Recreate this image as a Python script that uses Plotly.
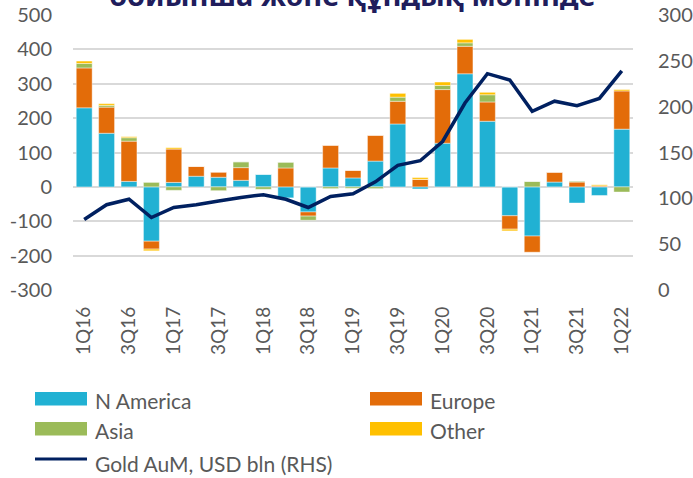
import plotly.graph_objects as go

quarters = ['1Q16', '2Q16', '3Q16', '4Q16', '1Q17', '2Q17', '3Q17', '4Q17',
            '1Q18', '2Q18', '3Q18', '4Q18', '1Q19', '2Q19', '3Q19', '4Q19',
            '1Q20', '2Q20', '3Q20', '4Q20', '1Q21', '2Q21', '3Q21', '4Q21', '1Q22']
tick_labels = quarters[::2]
left_ticks = [-300, -200, -100, 0, 100, 200, 300, 400, 500]
left_tick_text = ['-300', '-200', '-100', '0', '100', '200', '300', '400', '500']
right_ticks = [0, 50, 100, 150, 200, 250, 300]

n_america = [230, 156, 16, -158, 13, 31, 28, 19, 37, -32, -73, 55, 26, 75, 183, -6,
             127, 329, 191, -84, -143, 14, -47, -25, 168]
europe = [116, 76, 117, -23, 97, 29, 15, 37, 0, 55, -12, 66, 22, 75, 66, 22,
          156, 80, 56, -39, -47, 29, 14, 3, 111]
asia = [13, 5, 10, 13, -10, 0, -11, 17, -7, 17, -12, -5, -4, -5, 12, 0,
        12, 10, 21, 0, 16, 0, 3, 0, -15]
other = [7, 5, 3, -5, 4, 0, 0, 0, 0, 0, 0, 0, 0, 0, 11, 5,
         10, 10, 7, -5, 0, 0, 0, 3, 4]
gold_aum = [77, 93, 99, 79, 90, 93, 97, 101, 104, 99, 90, 102, 105, 118, 136, 141,
            162, 204, 236, 229, 195, 206, 201, 209, 239]

series = [("N America", n_america, "#21B1D3"),
          ("Europe", europe, "#E36C09"),
          ("Asia", asia, "#9BBB59"),
          ("Other", other, "#FFC000")]
line_name = "Gold AuM, USD bln (RHS)"
line_color = "#002060"
title_text = "бойынша және құндық мәнінде"

FONT = "Lato"
GRAY = "#595959"

fig = go.Figure()
for name, vals, col in series:
    fig.add_trace(go.Bar(x=quarters, y=vals, name=name, marker_color=col,
                         marker_line=dict(color="rgba(255,255,255,0.7)", width=0.6),
                         showlegend=False))
fig.add_trace(go.Scatter(x=quarters, y=gold_aum, name=line_name, yaxis="y2",
                         mode="lines", line=dict(color=line_color, width=3.5),
                         showlegend=False))

# geometry in screen pixels (page body margin removed below)
W, H = 693, 478
L, R, T, B = 73, 633, 15, 290
pw, ph = R - L, B - T

def px(x):
    return (x - L) / pw

def py(y):
    return (B - y) / ph

shapes = []
annotations = []
# custom legend
legend_items = [
    ("N America", "#21B1D3", 35, 392, 93, "rect"),
    ("Europe", "#E36C09", 370, 392, 428, "rect"),
    ("Asia", "#9BBB59", 35, 422, 93, "rect"),
    ("Other", "#FFC000", 370, 422, 428, "rect"),
    (line_name, line_color, 35, 459, 93, "line"),
]
for text, col, sx, sy, tx, kind in legend_items:
    if kind == "rect":
        shapes.append(dict(type="rect", xref="paper", yref="paper",
                           x0=px(sx), x1=px(sx + 52), y0=py(sy), y1=py(sy + 13.5),
                           fillcolor=col, line=dict(width=0)))
        cy = sy + 8
    else:
        shapes.append(dict(type="line", xref="paper", yref="paper",
                           x0=px(sx), x1=px(sx + 52), y0=py(sy), y1=py(sy),
                           line=dict(color=col, width=3)))
        cy = sy + 4.5
    annotations.append(dict(text=text, xref="paper", yref="paper", x=px(tx), y=py(cy),
                            xanchor="left", yanchor="middle", showarrow=False,
                            font=dict(family=FONT, size=21, color=GRAY)))

annotations.append(dict(text="<b>" + title_text + "</b>", xref="paper", yref="paper",
                        x=px(352), y=py(-5.5), xanchor="center", yanchor="middle",
                        showarrow=False,
                        font=dict(family="Noto Sans", size=29, color="#201D5C")))

fig.update_layout(
    width=W, height=H,
    margin=dict(l=L, r=W - R, t=T, b=H - B, autoexpand=False),
    paper_bgcolor="white", plot_bgcolor="white",
    barmode="relative", bargap=0.29,
    font=dict(family=FONT, color=GRAY),
    xaxis=dict(type="category", tickmode="array", tickvals=tick_labels, ticktext=tick_labels,
               tickangle=-90, tickfont=dict(family=FONT, size=19, color=GRAY),
               showgrid=False, showline=False, ticks="", ticklabelstandoff=12,
               automargin=False),
    yaxis=dict(range=[-300, 500], tickmode="array", tickvals=left_ticks,
               ticktext=left_tick_text, tickfont=dict(family=FONT, size=20, color=GRAY),
               showgrid=True, gridcolor="#D9D9D9", gridwidth=1.6,
               zeroline=True, zerolinecolor="#D9D9D9", zerolinewidth=1.6,
               ticks="", ticklabelstandoff=20, automargin=False),
    yaxis2=dict(range=[0, 300], tickmode="array", tickvals=right_ticks,
                overlaying="y", side="right",
                tickfont=dict(family=FONT, size=20, color=GRAY),
                showgrid=False, zeroline=False, ticks="", ticklabelstandoff=24,
                automargin=False),
    shapes=shapes, annotations=annotations,
)

fig.write_html("out.html", config={"displayModeBar": False},
               post_script="document.body.style.margin='0';")
